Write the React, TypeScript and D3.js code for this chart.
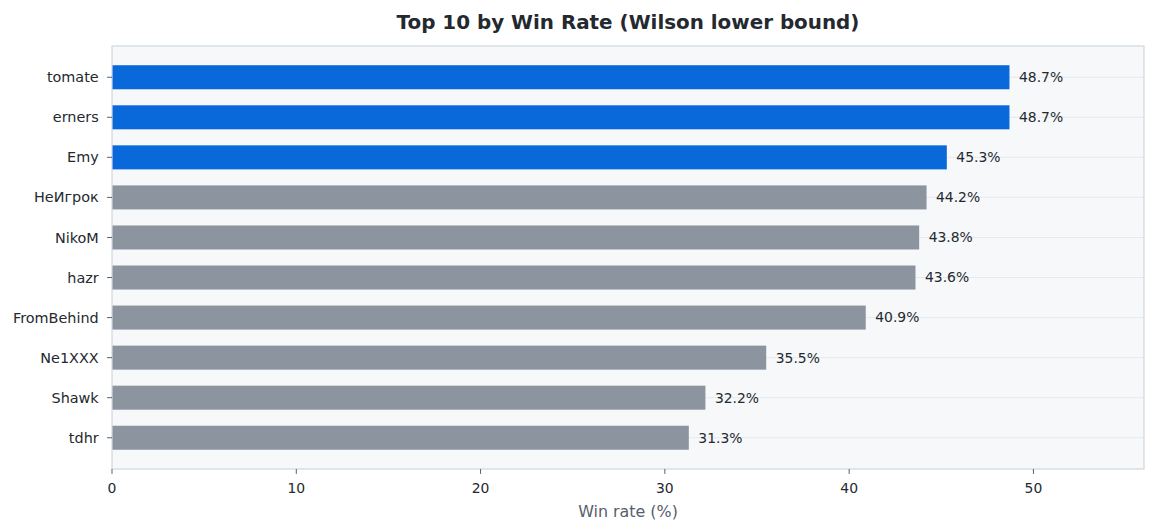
import React from "react";
import * as d3 from "d3";

const players = ["tomate", "erners", "Emy", "НеИгрок", "NikoM", "hazr", "FromBehind", "Ne1XXX", "Shawk", "tdhr"];
const winRates = [48.7, 48.7, 45.3, 44.2, 43.8, 43.6, 40.9, 35.5, 32.2, 31.3];
const xTicks = [0, 10, 20, 30, 40, 50];
const highlightCount = 3;

const W = 1157;
const H = 531;
const M = { left: 112, right: 1144, top: 46, bottom: 469 };
const FONT = "'DejaVu Sans', sans-serif";

export default function App() {
  const x = d3.scaleLinear().domain([0, 56]).range([M.left, M.right]);
  const y = d3
    .scaleBand<string>()
    .domain(players)
    .range([M.top, M.bottom])
    .paddingInner(0.4)
    .paddingOuter(0.48);
  const bw = y.bandwidth();

  return (
    <svg
      width={W}
      height={H}
      style={{ position: "absolute", left: 0, top: 0, display: "block", background: "#ffffff" }}
      fontFamily={FONT}
    >
      <rect x={0} y={0} width={W} height={H} fill="#ffffff" />
      <text x={628} y={29} textAnchor="middle" fontSize={19.9} fontWeight="bold" fill="#24292f">
        Top 10 by Win Rate (Wilson lower bound)
      </text>
      <rect x={M.left} y={M.top} width={M.right - M.left} height={M.bottom - M.top} fill="#f6f8fa" />
      {players.map((p) => {
        const cy = (y(p) as number) + bw / 2;
        return <line key={"g" + p} x1={M.left} x2={M.right} y1={cy} y2={cy} stroke="#e6eaef" strokeWidth={1} />;
      })}
      {players.map((p, i) => {
        const y0 = y(p) as number;
        const v = winRates[i];
        return (
          <g key={"b" + p}>
            <rect
              x={x(0)}
              y={y0}
              width={x(v) - x(0)}
              height={bw}
              fill={i < highlightCount ? "#0969da" : "#8c959f"}
            />
            <text
              x={x(v) + 9.5}
              y={y0 + bw / 2}
              dy="0.35em"
              fontSize={13.9}
              fill="#24292f"
            >
              {v.toFixed(1) + "%"}
            </text>
          </g>
        );
      })}
      <rect
        x={M.left}
        y={M.top}
        width={M.right - M.left}
        height={M.bottom - M.top}
        fill="none"
        stroke="#d0d7de"
        strokeWidth={1.2}
      />
      {players.map((p) => {
        const cy = (y(p) as number) + bw / 2;
        return (
          <g key={"t" + p}>
            <line x1={M.left - 4.9} x2={M.left} y1={cy} y2={cy} stroke="#57606a" strokeWidth={1} />
            <text x={M.left - 13.3} y={cy} dy="0.35em" textAnchor="end" fontSize={14.4} fill="#24292f">
              {p}
            </text>
          </g>
        );
      })}
      {xTicks.map((t) => (
        <g key={"x" + t}>
          <line x1={x(t)} x2={x(t)} y1={M.bottom} y2={M.bottom + 4.9} stroke="#57606a" strokeWidth={1} />
          <text x={x(t)} y={M.bottom + 24} textAnchor="middle" fontSize={13.9} fill="#24292f">
            {t}
          </text>
        </g>
      ))}
      <text x={(M.left + M.right) / 2} y={517} textAnchor="middle" fontSize={15.9} fill="#57606a">
        Win rate (%)
      </text>
    </svg>
  );
}
